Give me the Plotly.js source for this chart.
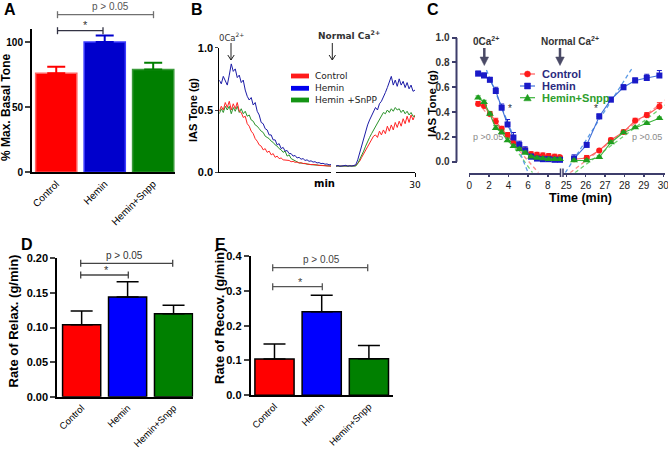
<!DOCTYPE html>
<html><head><meta charset="utf-8">
<script src="https://cdn.plot.ly/plotly-3.0.1.min.js"></script>
<style>html,body{margin:0;padding:0;background:#fff}#chart{width:668px;height:450px}</style>
</head><body><div id="chart"></div>
<script>
// ---------- DATA ----------
const groups = ['Control', 'Hemin', 'Hemin+Snpp'];
// Panel A: % max basal tone (mean, +SEM)
const maxTone = [76, 100, 79];
const maxToneErr = [5, 5, 5];
// Panel D: rate of relaxation (g/min)
const relaxRate = [0.104, 0.144, 0.120];
const relaxErr = [0.020, 0.022, 0.012];
// Panel E: rate of recovery (g/min)
const recovRate = [0.104, 0.240, 0.105];
const recovErr = [0.043, 0.047, 0.038];

// Panel B: raw IAS tone traces (g), sampled every 0.25 min
const bLegend = ['Control', 'Hemin', 'Hemin +SnPP'];
const bStartEarly = 0, bStartLate = 20, bStep = 0.25;
const bCtrlEarly = [.49,.53,.50,.56,.52,.57,.50,.55,.51,.56,
  .49,.48,.44,.45,.39,.37,.33,.31,.27,.25,
  .22,.21,.18,.19,.16,.17,.14,.15,.12,.13,
  .11,.115,.10,.098,.092,.095,.085,.088,.08,.082,
  .075,.077,.07,.072,.066,.067,.062,.063,.058,.059,
  .055,.056,.052,.053,.051,.051,.05];
const bHemEarly = [.74,.71,.77,.73,.70,.78,.87,.81,.83,.76,
  .78,.72,.74,.66,.61,.58,.60,.54,.56,.49,
  .46,.40,.39,.35,.34,.30,.30,.26,.26,.22,
  .23,.19,.20,.17,.175,.15,.15,.13,.135,.115,
  .12,.105,.11,.095,.10,.088,.092,.082,.085,.075,
  .078,.07,.072,.065,.067,.06,.062];
const bSnEarly = [.47,.51,.48,.53,.50,.53,.47,.52,.49,.53,
  .48,.51,.47,.49,.45,.46,.42,.41,.38,.37,
  .35,.33,.32,.29,.28,.27,.25,.24,.22,.21,
  .19,.18,.16,.17,.13,.14,.11,.10,.09,.085,
  .075,.074,.07,.068,.065,.064,.061,.06,.058,.057,
  .055,.054,.053,.052,.051,.05,.05];
const bCtrlLate = [.05,.052,.048,.05,.051,.049,.05,.052,.05,.051,
  .055,.07,.09,.12,.15,.18,.21,.24,.26,.29,
  .30,.28,.33,.30,.34,.31,.37,.33,.38,.34,
  .40,.36,.41,.37,.43,.39,.45,.40,.46,.42,.46];
const bHemLate = [.05,.055,.048,.052,.05,.056,.049,.053,.05,.055,
  .06,.10,.16,.22,.28,.33,.38,.42,.45,.49,
  .52,.50,.55,.57,.60,.64,.68,.73,.77,.70,
  .74,.69,.75,.70,.73,.68,.72,.67,.70,.65,.66];
const bSnLate = [.05,.05,.052,.049,.05,.051,.05,.049,.05,.052,
  .05,.07,.10,.13,.17,.21,.25,.28,.31,.34,
  .37,.40,.42,.46,.48,.47,.50,.48,.51,.49,
  .52,.50,.51,.48,.50,.47,.49,.46,.48,.45,.45];

// Panel C: mean tone (g) +SEM vs time (min)
const cTimeEarly = [0.9,1.5,2.1,2.7,3.3,3.9,4.5,5.1,5.7,6.3,6.9,7.5,8.1,8.7,9.25];
const cCtrlEarly = [.465,.45,.385,.325,.265,.215,.15,.12,.09,.06,.055,.05,.045,.04,.035];
const cCtrlEarlyErr = [.02,.02,.02,.025,.02,.02,.02,.02,.02,.02,.02,.02,.02,.02,.02];
const cHemEarly = [.71,.695,.66,.57,.435,.30,.195,.135,.09,.04,.025,.02,.02,.015,.015];
const cHemEarlyErr = [.02,.02,.02,.03,.03,.04,.04,.03,.03,.02,.01,.01,.01,.01,.01];
const cSnEarly = [.515,.48,.385,.27,.235,.17,.125,.10,.07,.04,.03,.025,.02,.02,.02];
const cSnEarlyErr = [.015,.015,.015,.02,.02,.02,.015,.015,.015,.01,.01,.01,.01,.01,.01];
const cTimeLate = [25.4,26.05,26.7,27.3,27.95,28.55,29.15,29.8];
const cCtrlLate = [.02,.03,.09,.175,.24,.33,.375,.445];
const cCtrlLateErr = [.02,.02,.01,.015,.015,.02,.02,.03];
const cHemLate = [.025,.135,.365,.50,.60,.655,.675,.695];
const cHemLateErr = [.03,.02,.02,.02,.02,.02,.03,.04];
const cSnLate = [.01,.01,.035,.155,.235,.275,.31,.35];
const cSnLateErr = [.01,.01,.01,.01,.01,.01,.01,.01];
// linear fits (end points)
const fitCtrlRelaxX = [0.9, 7.05],  fitCtrlRelaxY = [0.47, -0.089];
const fitHemRelaxX  = [1.75, 6.0],  fitHemRelaxY  = [0.74, -0.089];
const fitSnRelaxX   = [0.9, 6.45],  fitSnRelaxY   = [0.52, -0.089];
const fitCtrlRecovX = [25.2, 30.3], fitCtrlRecovY = [-0.089, 0.52];
const fitHemRecovX  = [24.95, 28.4],fitHemRecovY  = [-0.089, 0.755];
const fitSnRecovX   = [25.45, 30.3],fitSnRecovY   = [-0.089, 0.48];

// ---------- HELPERS ----------
const W = 668, H = 450;
const px = v => v / W, py = v => 1 - v / H;
const ARIAL = 'Liberation Sans, Arial, sans-serif';
const VERD = 'DejaVu Sans, Verdana, sans-serif';
const cAxis = '#3d3d6b';

function seg(x0, y0, x1, y1, color, w, dash) {
  return {type:'line', xref:'paper', yref:'paper', x0:px(x0), y0:py(y0), x1:px(x1), y1:py(y1),
    line:{color:color, width:w, dash:dash||'solid'}};
}
function bracket(x0, x1, y, color) {
  return [seg(x0,y,x1,y,color,1.3), seg(x0,y-3.5,x0,y+3.5,color,1.3), seg(x1,y-3.5,x1,y+3.5,color,1.3)];
}
function tri(pts, color) {
  const d = pts.map((p, i) => (i ? 'L' : 'M') + px(p[0]) + ',' + py(p[1])).join(' ') + ' Z';
  return {type:'path', xref:'paper', yref:'paper', path:d, fillcolor:color, line:{color:color, width:0.5}};
}
function ann(x, y, text, font, extra) {
  return Object.assign({xref:'paper', yref:'paper', x:px(x), y:py(y), text:text, showarrow:false,
    xanchor:'center', yanchor:'middle', font:Object.assign({family:ARIAL, size:10, color:'#000'}, font||{})}, extra||{});
}

// ---------- TRACES ----------
const traces = [];
const aFill = ['#ff0000', '#0000cc', '#007f00'];
const aEdge = ['#ff6464', '#3c3cff', '#3a9a3a'];
groups.forEach((g, i) => {
  traces.push({type:'bar', x:[g], y:[maxTone[i]], xaxis:'x', yaxis:'y', width:0.85,
    marker:{color:aFill[i], line:{color:aEdge[i], width:1.5}},
    error_y:{type:'data', array:[maxToneErr[i]], arrayminus:[0], symmetric:false, color:aFill[i], thickness:2, width:9}});
});
const dFill = ['#ff0000', '#0000ff', '#008000'];
traces.push({type:'bar', x:groups, y:relaxRate, xaxis:'x6', yaxis:'y4', width:0.83,
  marker:{color:dFill, line:{color:'#000', width:1.5}},
  error_y:{type:'data', array:relaxErr, arrayminus:[0,0,0], symmetric:false, color:'#000', thickness:1.5, width:11}});
traces.push({type:'bar', x:groups, y:recovRate, xaxis:'x7', yaxis:'y5', width:0.83,
  marker:{color:dFill, line:{color:'#000', width:1.5}},
  error_y:{type:'data', array:recovErr, arrayminus:[0,0,0], symmetric:false, color:'#000', thickness:1.5, width:11}});

// Panel B raw traces
const bCol = {ctrl:'#ff2424', hem:'#1c1ca6', sn:'#2a922a'};
function bTrace(y, x0, xa, col) {
  return {type:'scatter', mode:'lines', x0:x0, dx:bStep, y:y, xaxis:xa, yaxis:'y2', line:{color:col, width:1}, hoverinfo:'skip'};
}
traces.push(bTrace(bSnEarly, bStartEarly, 'x2', bCol.sn));
traces.push(bTrace(bCtrlEarly, bStartEarly, 'x2', bCol.ctrl));
traces.push(bTrace(bHemEarly, bStartEarly, 'x2', bCol.hem));
traces.push(bTrace(bCtrlLate, bStartLate, 'x3', bCol.ctrl));
traces.push(bTrace(bSnLate, bStartLate, 'x3', bCol.sn));
traces.push(bTrace(bHemLate, bStartLate, 'x3', bCol.hem));

// Panel C fits
function fit(x, y, xa, col) {
  return {type:'scatter', mode:'lines', x:x, y:y, xaxis:xa, yaxis:'y3', line:{color:col, width:1.3, dash:'4px,3px'}};
}
const fitCol = {ctrl:'#ff8a8a', hem:'#5b9be6', sn:'#6fd36f'};
traces.push(fit(fitCtrlRelaxX, fitCtrlRelaxY, 'x4', fitCol.ctrl));
traces.push(fit(fitSnRelaxX, fitSnRelaxY, 'x4', fitCol.sn));
traces.push(fit(fitHemRelaxX, fitHemRelaxY, 'x4', fitCol.hem));
traces.push(fit(fitCtrlRecovX, fitCtrlRecovY, 'x5', fitCol.ctrl));
traces.push(fit(fitSnRecovX, fitSnRecovY, 'x5', fitCol.sn));
traces.push(fit(fitHemRecovX, fitHemRecovY, 'x5', fitCol.hem));
// Panel C data
const cMk = {ctrl:'#ff1a1a', hem:'#1a1ac8', sn:'#1f9e1f'};
const cLn = {ctrl:'#ff5a5a', hem:'#4070d8', sn:'#3cb43c'};
function cTrace(x, y, e, xa, key, sym, size) {
  return {type:'scatter', mode:'lines+markers', x:x, y:y, xaxis:xa, yaxis:'y3', cliponaxis:false,
    line:{color:cLn[key], width:1.1}, marker:{color:cMk[key], symbol:sym, size:size},
    error_y:{type:'data', array:e, arrayminus:e.map(()=>0), symmetric:false, color:cMk[key], thickness:1, width:2.5}};
}
traces.push(cTrace(cTimeEarly, cCtrlEarly, cCtrlEarlyErr, 'x4', 'ctrl', 'circle', 6));
traces.push(cTrace(cTimeEarly, cHemEarly, cHemEarlyErr, 'x4', 'hem', 'square', 6));
traces.push(cTrace(cTimeEarly, cSnEarly, cSnEarlyErr, 'x4', 'sn', 'triangle-up', 7));
traces.push(cTrace(cTimeLate, cCtrlLate, cCtrlLateErr, 'x5', 'ctrl', 'circle', 6));
traces.push(cTrace(cTimeLate, cHemLate, cHemLateErr, 'x5', 'hem', 'square', 6));
traces.push(cTrace(cTimeLate, cSnLate, cSnLateErr, 'x5', 'sn', 'triangle-up', 7));

// ---------- AXES ----------
const base = {showgrid:false, zeroline:false, fixedrange:true};
const catX = (dom, anchor, rng, fs) => Object.assign({}, base, {domain:dom, anchor:anchor, type:'category',
  range:rng, showline:true, linewidth:2, linecolor:'#000', ticks:'', tickangle:-45,
  tickfont:{family:ARIAL, size:fs, color:'#000'}});
const layout = {
  width:W, height:H, margin:{l:0, r:0, t:0, b:0}, paper_bgcolor:'#fff', plot_bgcolor:'rgba(0,0,0,0)',
  showlegend:false, barmode:'overlay', font:{family:ARIAL, color:'#000'},
  // A
  xaxis: catX([px(32), px(175)], 'y', [-0.5, 2.45], 10),
  yaxis: Object.assign({}, base, {domain:[py(172.3), py(29)], anchor:'x', range:[0, 110], tickvals:[0, 50, 100],
    ticks:'outside', ticklen:5, tickwidth:2, showline:true, linewidth:2, linecolor:'#000',
    tickfont:{family:ARIAL, size:10, weight:'bold'}}),
  // B
  xaxis2: Object.assign({}, base, {domain:[px(219.3), px(331)], anchor:'y2', range:[0, 14], showline:true,
    linewidth:1, linecolor:'#000', ticks:'', showticklabels:false}),
  xaxis3: Object.assign({}, base, {domain:[px(336), px(415)], anchor:'y2', range:[20, 30], showline:true,
    linewidth:1, linecolor:'#000', tickvals:[30], ticks:'outside', ticklen:4, tickcolor:'#000',
    tickfont:{family:VERD, size:9, color:'#000'}}),
  yaxis2: Object.assign({}, base, {domain:[py(172.3), py(47.7)], anchor:'x2', range:[0, 1], tickvals:[0, 0.5, 1],
    tickformat:'.1f', ticks:'outside', ticklen:3, showline:true, linewidth:1, linecolor:'#000',
    tickfont:{family:ARIAL, size:11, weight:'bold'}}),
  // C
  xaxis4: Object.assign({}, base, {domain:[px(469.3), px(560.5)], anchor:'y3', range:[0, 9.3], tickvals:[0, 2, 4, 6, 8],
    showline:true, linewidth:2, linecolor:cAxis, ticks:'outside', ticklen:2, tickwidth:1.5, tickcolor:cAxis,
    tickfont:{family:ARIAL, size:10, color:'#222'}}),
  xaxis5: Object.assign({}, base, {domain:[px(563), px(665)], anchor:'y3', range:[24.83, 30.09], tickvals:[25, 26, 27, 28, 29, 30],
    showline:true, linewidth:2, linecolor:cAxis, ticks:'outside', ticklen:2, tickwidth:1.5, tickcolor:cAxis,
    ticklabeloverflow:'allow', tickfont:{family:ARIAL, size:10, color:'#222'}}),
  yaxis3: Object.assign({}, base, {domain:[py(172.7), py(37.7)], anchor:'free', position:px(456.5), range:[-0.089, 1.0],
    tickvals:[0, 0.2, 0.4, 0.6, 0.8, 1.0], tickformat:'.1f', ticks:'outside', ticklen:5, tickwidth:2, tickcolor:cAxis,
    showline:false, tickfont:{family:ARIAL, size:10, weight:'bold', color:'#333'}}),
  // D
  xaxis6: catX([px(57.3), px(193.3)], 'y4', [-0.53, 2.43], 9.5),
  yaxis4: Object.assign({}, base, {domain:[py(396.7), py(258.3)], anchor:'x6', range:[0, 0.2],
    tickvals:[0, 0.05, 0.1, 0.15, 0.2], tickformat:'.2f', ticks:'outside', ticklen:5, tickwidth:2,
    showline:true, linewidth:2, linecolor:'#000', tickfont:{family:ARIAL, size:11, weight:'bold'}}),
  // E
  xaxis7: catX([px(250.7), px(392.7)], 'y5', [-0.504, 2.504], 9.5),
  yaxis5: Object.assign({}, base, {domain:[py(395.3), py(256)], anchor:'x7', range:[0, 0.4],
    tickvals:[0, 0.1, 0.2, 0.3, 0.4], tickformat:'.1f', ticks:'outside', ticklen:5, tickwidth:2,
    showline:true, linewidth:2, linecolor:'#000', tickfont:{family:ARIAL, size:11, weight:'bold'}})
};

// ---------- SHAPES ----------
let shapes = [];
// A brackets
shapes = shapes.concat(bracket(57.5, 153.5, 14.7, '#707070'), bracket(57.5, 103, 30.7, '#333344'));
// D brackets
shapes = shapes.concat(bracket(80.7, 172.7, 263.3, '#444'), bracket(80.7, 128.3, 275, '#444'));
// E brackets
shapes = shapes.concat(bracket(272.7, 367.7, 267.7, '#555'), bracket(272.7, 322.3, 286.7, '#555'));
// C y axis line and x-axis break marks
shapes.push({type:'line', xref:'paper', yref:'y3', x0:px(456.5), x1:px(456.5), y0:0, y1:1, line:{color:cAxis, width:2}});
shapes.push(seg(560.5, 168.5, 560.5, 177, cAxis, 1.5), seg(563, 168.5, 563, 177, cAxis, 1.5));
// B legend patches
const bLegCol = ['#ff1a1a', '#0000ee', '#149414'];
const bLegY = [76, 88.3, 100];
bLegY.forEach((y, i) => shapes.push({type:'rect', xref:'paper', yref:'paper', x0:px(291), x1:px(309),
  y0:py(y + 2.4), y1:py(y - 2.4), fillcolor:bLegCol[i], line:{width:0}}));
// C legend symbols
const cLegY = [74, 86, 97.7];
const cKeys = ['ctrl', 'hem', 'sn'];
cLegY.forEach((y, i) => shapes.push(seg(520, y, 535, y, cLn[cKeys[i]], 1.2)));
shapes.push({type:'circle', xref:'paper', yref:'paper', x0:px(524.5), x1:px(530.5), y0:py(77), y1:py(71),
  fillcolor:cMk.ctrl, line:{color:cMk.ctrl, width:0.5}});
shapes.push({type:'rect', xref:'paper', yref:'paper', x0:px(524.5), x1:px(530.5), y0:py(89), y1:py(83),
  fillcolor:cMk.hem, line:{color:cMk.hem, width:0.5}});
shapes.push(tri([[527.5, 94.3], [531.2, 100.8], [523.8, 100.8]], cMk.sn));
// B arrows (thin, open head)
[231, 332.3].forEach(x => {
  shapes.push(seg(x, 43, x, 60, '#222', 1));
  shapes.push(seg(x - 3.2, 55, x, 60, '#222', 1), seg(x + 3.2, 55, x, 60, '#222', 1));
});
// C arrows (thick, filled head)
[484.3, 560].forEach(x => {
  shapes.push(seg(x, 48, x, 58, '#4a4a66', 2.5));
  shapes.push(tri([[x - 4.3, 57], [x + 4.3, 57], [x, 65.5]], '#4a4a66'));
});
layout.shapes = shapes;

// ---------- ANNOTATIONS ----------
const anns = [];
const letter = {size:16, weight:'bold'};
anns.push(ann(10, 9, 'A', letter), ann(197, 9, 'B', letter), ann(432.5, 9, 'C', letter),
  ann(27, 244, 'D', letter), ann(220, 244, 'E', letter));
// axis titles
anns.push(ann(6, 108, '% Max. Basal Tone', {size:12, weight:'bold'}, {textangle:-90}));
anns.push(ann(193, 110, 'IAS Tone (g)', {size:11, weight:'bold'}, {textangle:-90}));
anns.push(ann(432, 104, 'IAS Tone (g)', {size:11.5, weight:'bold'}, {textangle:-90}));
anns.push(ann(12.5, 321, 'Rate of Relax. (g/min)', {size:13, weight:'bold'}, {textangle:-90}));
anns.push(ann(219, 316, 'Rate of Recov. (g/min)', {size:13, weight:'bold'}, {textangle:-90}));
anns.push(ann(580.5, 198, 'Time (min)', {size:12.5, weight:'bold'}));
anns.push(ann(324.5, 183, 'min', {family:VERD, size:10, weight:'bold'}));
// significance labels
anns.push(ann(110, 7, 'p > 0.05', {size:10, color:'#555'}), ann(86, 25, '*', {size:11, color:'#333'}));
anns.push(ann(124, 255, 'p > 0.05', {size:10, color:'#333'}), ann(106.7, 270, '*', {size:11, color:'#333'}));
anns.push(ann(321.7, 259.3, 'p > 0.05', {size:10, color:'#444'}), ann(300, 281.7, '*', {size:11, color:'#444'}));
anns.push(ann(488, 137.3, 'p >0.05', {size:9, color:'#8a8a8a'}), ann(647, 137.3, 'p >0.05', {size:9, color:'#8a8a8a'}));
anns.push(ann(510, 108, '*', {size:10, color:'#333'}), ann(596, 108, '*', {size:10, color:'#333'}));
// B labels
anns.push(ann(231.7, 36.5, '0Ca<sup>2+</sup>', {family:VERD, size:8.5, color:'#333'}));
anns.push(ann(349, 35, 'Normal Ca<sup>2+</sup>', {family:VERD, size:9, color:'#333', weight:'bold'}));
bLegY.forEach((y, i) => anns.push(ann(312.7, y, bLegend[i], {family:VERD, size:9, color:'#222'}, {xanchor:'left'})));
// C legend labels
const cLegTxtCol = ['#2b2b80', '#2b2b80', '#2e9e2e'];
cLegY.forEach((y, i) => anns.push(ann(540, y, groups[i], {size:11, weight:'bold', color:cLegTxtCol[i]}, {xanchor:'left'})));
// C labels
anns.push(ann(486, 41, '0Ca<sup>2+</sup>', {size:10, weight:'bold', color:'#333'}));
anns.push(ann(570, 41, 'Normal Ca<sup>2+</sup>', {size:10, weight:'bold', color:'#333'}));
layout.annotations = anns;

Plotly.newPlot('chart', traces, layout, {staticPlot:true, displayModeBar:false});
</script>
</body></html>
